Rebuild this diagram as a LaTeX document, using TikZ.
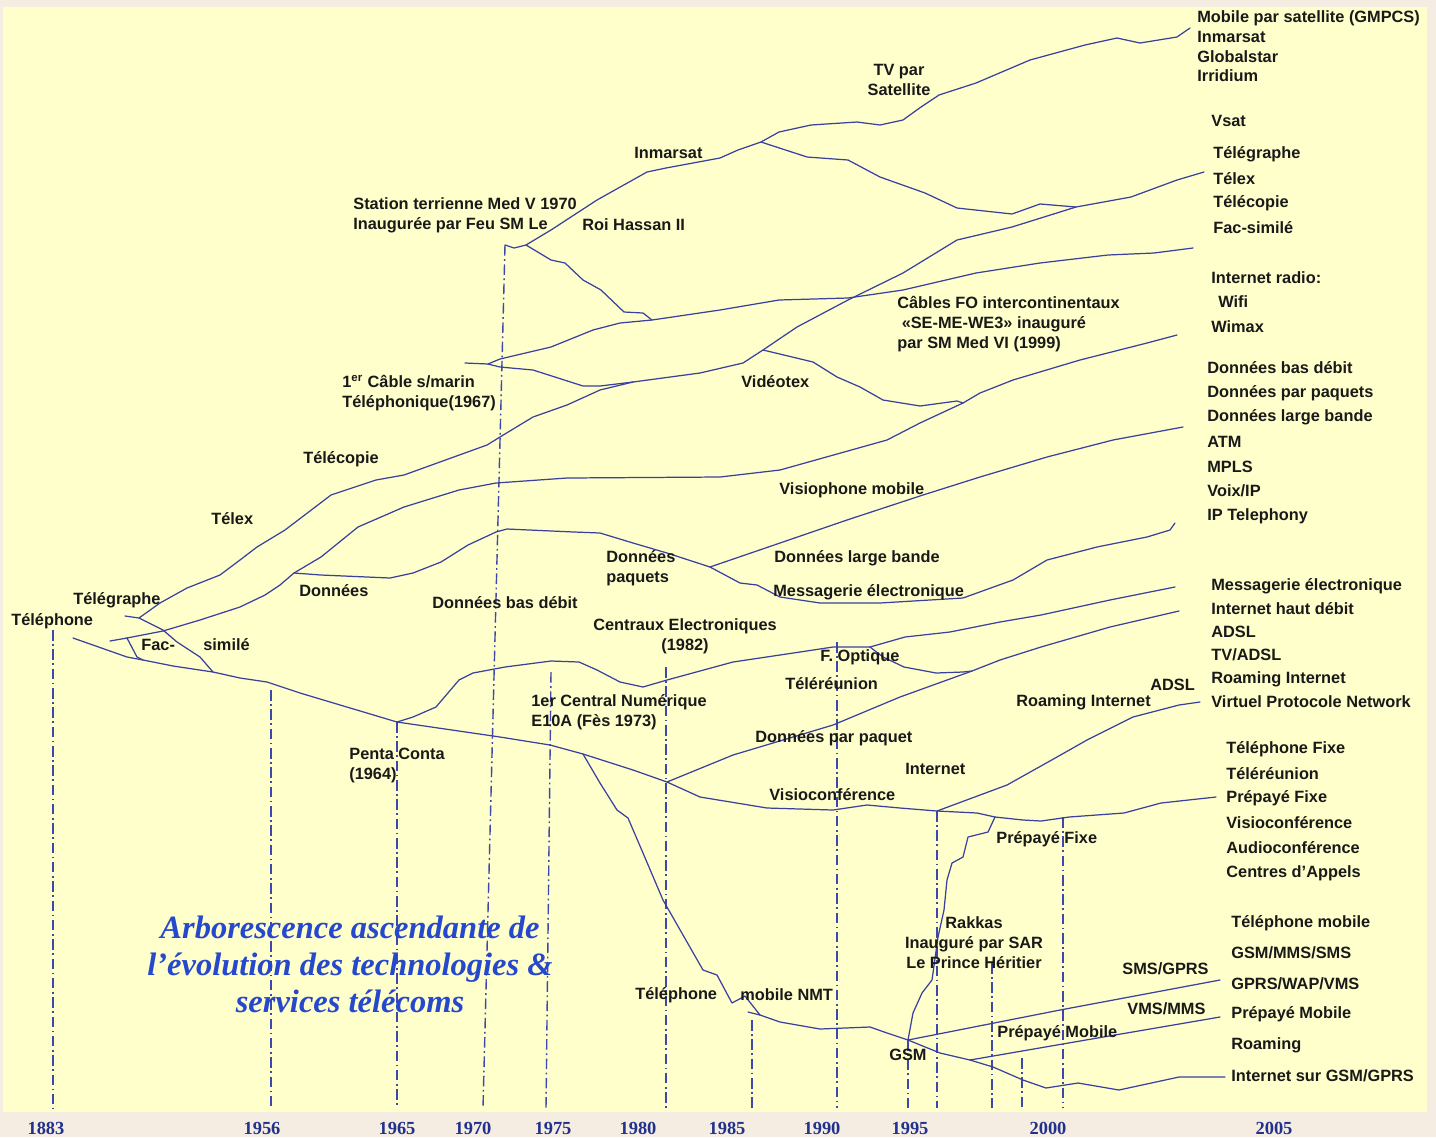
\documentclass[tikz,border=0pt]{standalone}
\usepackage{fontspec}
\setmainfont{Liberation Serif}
\setsansfont{Liberation Sans}
\usetikzlibrary{positioning}
\definecolor{paper}{RGB}{245,236,226}
\definecolor{sheet}{RGB}{255,255,204}
\definecolor{branchblue}{RGB}{58,64,158}
\definecolor{epochblue}{RGB}{62,72,172}
\definecolor{ink}{RGB}{25,25,25}
\definecolor{titleblue}{RGB}{38,72,205}
\definecolor{yearblue}{RGB}{32,50,140}

\begin{document}
\begin{tikzpicture}[x=0.02cm,y=-0.02cm,
    branch/.style={draw=branchblue,line width=0.7pt,line join=round,line cap=round},
    epoch/.style={draw=epochblue,line width=0.8pt,dash pattern=on 6pt off 2pt on 1pt off 2pt},
    lbl/.style={font=\sffamily\bfseries\fontsize{9.3}{11.4}\selectfont,text=ink,inner sep=0pt,anchor=west},
    yearlbl/.style={font=\bfseries\fontsize{10.5}{12}\selectfont,text=yearblue,inner sep=0pt}]
  \useasboundingbox (0,0) rectangle (1436,1137);
  \fill[paper] (0,0) rectangle (1436,1137);
  \fill[sheet] (3,7) rectangle (1427,1112);

  % epochs
  \foreach \xt/\yt/\xb in {53/630/53,271/690/271,397/722/397,505/245/483,551/672/546,
      666/667/666,752/1020/752,837/642/837,908/1040/908,937/811/937,992/963/992,
      1022/1058/1022,1063/817/1063}
    \draw[epoch] (\xt,\yt) -- (\xb,1108);
  \foreach \yr/\x in {1883/46,1956/262,1965/397,1970/473,1975/553,1980/638,1985/727,
      1990/822,1995/910,2000/1048,2005/1274}
    \node[yearlbl] (y\yr) at (\x,1128) {\yr};

  % junctions
  \coordinate (tel) at (73,638);
  \coordinate (fac) at (143,660);
  \coordinate (facT) at (127,638);
  \coordinate (tgr) at (139,618);
  \coordinate (tgx) at (213,672);
  \coordinate (don) at (294,573);
  \coordinate (pc) at (397,722);
  \coordinate (mob) at (583,754);
  \coordinate (ce) at (667,782);
  \coordinate (dpq) at (710,567);
  \coordinate (fo) at (870,647);
  \coordinate (foj) at (972,671);
  \coordinate (vdx) at (763,350);
  \coordinate (vdj) at (963,403);
  \coordinate (stm) at (505,245);
  \coordinate (sta) at (526,245);
  \coordinate (inm) at (761,142);
  \coordinate (inj) at (1076,207);
  \coordinate (cbl) at (488,364);
  \coordinate (cbj) at (633,382);
  \coordinate (stj) at (652,320);
  \coordinate (net) at (937,811);
  \coordinate (fix) at (995,817);
  \coordinate (gsm) at (908,1040);
  \coordinate (gsb) at (970,1060);
  \coordinate (nmt) at (745,996);

  % telephone trunk
  \draw[branch] (tel) -- (127,657) -- (fac) -- (173,666) -- (tgx) -- (240,678) -- (267,682)
    -- (300,693) -- (pc) -- (500,737) -- (550,745) -- (mob) -- (633,770) -- (ce) -- (700,797)
    -- (767,808) -- (833,810) -- (867,805) -- (900,808) -- (net) -- (977,813) -- (fix)
    -- (1023,820) -- (1041,821) -- (1069,817) -- (1124,813) -- (1161,803) -- (1216,797);
  \draw[branch] (110,641) -- (facT) -- (137,657) -- (fac);
  \draw[branch] (facT) -- (163,631) -- (200,620) -- (240,607) -- (265,595) -- (280,585) -- (don)
    -- (321,557) -- (358,527) -- (404,507) -- (459,490) -- (496,483) -- (567,478) -- (720,477)
    -- (780,470) -- (887,440) -- (920,423) -- (vdj) -- (980,393) -- (1013,380) -- (1080,360)
    -- (1147,343) -- (1177,335);
  \draw[branch] (125,616) -- (tgr) -- (160,603) -- (187,588) -- (220,575) -- (240,560) -- (257,547)
    -- (285,530) -- (331,495) -- (376,480) -- (404,475) -- (487,445) -- (500,437) -- (533,417)
    -- (567,405) -- (600,390) -- (cbj) -- (700,373) -- (743,363) -- (vdx) -- (797,327)
    -- (848,300) -- (903,273) -- (957,240) -- (1012,227) -- (inj) -- (1131,197) -- (1177,180)
    -- (1204,172);
  \draw[branch] (tgr) -- (163,630) -- (177,642) -- (200,657) -- (tgx);
  % data
  \draw[branch] (don) -- (321,575) -- (390,578) -- (413,573) -- (441,562) -- (468,545) -- (496,532)
    -- (507,529) -- (574,532) -- (600,533) -- (633,543) -- (667,553) -- (dpq);
  \draw[branch] (dpq) -- (780,543) -- (847,520) -- (923,495) -- (980,477) -- (1047,457)
    -- (1113,440) -- (1183,427);
  \draw[branch] (dpq) -- (740,583) -- (757,585) -- (780,597) -- (820,603) -- (880,603) -- (963,598)
    -- (1013,580) -- (1047,560) -- (1097,547) -- (1147,537) -- (1170,530) -- (1175,523);
  \draw[branch] (vdx) -- (813,362) -- (837,377) -- (860,387) -- (883,400) -- (920,406) -- (957,401)
    -- (vdj);
  % satellite and cables
  \draw[branch] (stm) -- (514,248) -- (sta) -- (551,230) -- (597,200) -- (647,172) -- (666,168)
    -- (720,158) -- (738,150) -- (inm) -- (779,132) -- (811,125) -- (857,122) -- (880,125)
    -- (903,120) -- (921,107) -- (939,95) -- (976,83) -- (1030,60) -- (1085,45) -- (1117,38)
    -- (1140,43) -- (1177,37) -- (1190,28);
  \draw[branch] (inm) -- (807,157) -- (848,160) -- (880,177) -- (925,193) -- (957,208) -- (1012,214)
    -- (1040,204) -- (inj);
  \draw[branch] (465,363) -- (cbl) -- (500,359) -- (551,347) -- (593,330) -- (620,323) -- (stj)
    -- (720,310) -- (779,300) -- (848,298) -- (903,290) -- (976,273) -- (1040,263) -- (1108,255)
    -- (1154,253) -- (1193,248);
  \draw[branch] (cbl) -- (500,367) -- (533,370) -- (583,386) -- (600,386) -- (cbj);
  \draw[branch] (sta) -- (551,260) -- (565,263) -- (583,280) -- (601,290) -- (624,312) -- (643,313)
    -- (stj);
  % switching and fibre
  \draw[branch] (pc) -- (413,717) -- (436,707) -- (459,680) -- (473,673) -- (505,667) -- (551,661)
    -- (579,662) -- (597,670) -- (620,682) -- (643,687) -- (667,680) -- (733,662) -- (800,652)
    -- (833,647) -- (fo);
  \draw[branch] (fo) -- (905,637) -- (950,632) -- (1000,622) -- (1041,615) -- (1110,600) -- (1175,587);
  \draw[branch] (fo) -- (883,657) -- (904,667) -- (936,673) -- (963,672) -- (foj);
  \draw[branch] (ce) -- (733,755) -- (833,725) -- (900,697) -- (foj) -- (1000,660) -- (1041,647)
    -- (1110,627) -- (1179,611);
  \draw[branch] (net) -- (1007,785) -- (1057,757) -- (1087,740) -- (1133,717) -- (1179,705) -- (1200,702);
  \draw[branch] (fix) -- (988,832) -- (968,837) -- (963,857) -- (952,863) -- (947,880) -- (944,910)
    -- (938,937) -- (932,980) -- (922,993) -- (913,1013) -- (gsm);
  % mobile
  \draw[branch] (mob) -- (600,783) -- (617,810) -- (628,818) -- (643,853) -- (663,900) -- (703,970)
    -- (717,975) -- (732,1003) -- (nmt) -- (760,1015) -- (780,1022) -- (820,1029) -- (870,1027)
    -- (887,1033) -- (gsm);
  \draw[branch] (748,1012) -- (760,1015);
  \draw[branch] (gsm) -- (1060,1010) -- (1220,980);
  \draw[branch] (gsm) -- (940,1053) -- (gsb);
  \draw[branch] (gsb) -- (1080,1041) -- (1220,1017);
  \draw[branch] (gsb) -- (993,1067) -- (1023,1080) -- (1046,1088) -- (1078,1083) -- (1119,1090)
    -- (1179,1077) -- (1225,1077);

  % labels along the branches
  \node[lbl] (telephone) at (11,621) {Téléphone};
  \node[lbl] (telegraphe) at (73,600) {Télégraphe};
  \node[lbl] (facA) at (141,645) {Fac-};
  \node[lbl] (facB) at (203,645) {similé};
  \node[lbl] (telex) at (211,519) {Télex};
  \node[lbl] (telecopie) at (303,459) {Télécopie};
  \node[lbl] (donnees) at (299,591) {Données};
  \node[lbl,align=left] (cable67) at (342,393) {1\textsuperscript{er} Câble s/marin\\Téléphonique(1967)};
  \node[lbl,align=left] (station) at (353,215) {Station terrienne Med V 1970\\Inaugurée par Feu SM Le};
  \node[lbl] (hassan) at (582,225) {Roi Hassan II};
  \node[lbl] (inmarsat) at (634,153) {Inmarsat};
  \node[lbl,align=center,anchor=center] (tvsat) at (899,80) {TV par\\Satellite};
  \node[lbl,align=left] (cablesfo) at (897,324) {Câbles FO intercontinentaux\\\hspace{2.5pt}«SE-ME-WE3» inauguré\\par SM Med VI (1999)};
  \node[lbl] (videotex) at (741,382) {Vidéotex};
  \node[lbl] (visiophone) at (779,490) {Visiophone mobile};
  \node[lbl] (basdebit) at (432,603) {Données bas débit};
  \node[lbl,align=left] (paquets) at (606,568) {Données\\paquets};
  \node[lbl] (largebande) at (774,558) {Données large bande};
  \node[lbl] (messagerie) at (773,592) {Messagerie électronique};
  \node[lbl,align=center,anchor=center] (centraux) at (685,636) {Centraux Electroniques\\(1982)};
  \node[lbl,align=left] (e10a) at (531,712) {1er Central Numérique\\E10A (Fès 1973)};
  \node[lbl] (optique) at (820,657) {F. Optique};
  \node[lbl] (telereunion) at (785,684) {Téléréunion};
  \node[lbl,align=left] (penta) at (349,765) {Penta Conta\\(1964)};
  \node[lbl] (parpaquet) at (755,738) {Données par paquet};
  \node[lbl] (visioconf) at (769,795) {Visioconférence};
  \node[lbl] (internet) at (905,769) {Internet};
  \node[lbl] (roaming) at (1016,702) {Roaming Internet};
  \node[lbl] (adsl) at (1150,685) {ADSL};
  \node[lbl] (prepfixe) at (996,839) {Prépayé Fixe};
  \node[lbl,align=center,anchor=center] (rakkas) at (974,943) {Rakkas\\Inauguré par SAR\\Le Prince Héritier};
  \node[lbl] (smsgprs) at (1122,969) {SMS/GPRS};
  \node[lbl] (vmsmms) at (1127,1009) {VMS/MMS};
  \node[lbl] (prepmob) at (997,1033) {Prépayé Mobile};
  \node[lbl] (gsmlbl) at (889,1055) {GSM};
  \node[lbl] (telmob) at (635,995) {Téléphone};
  \node[lbl] (nmtlbl) at (740,995) {mobile NMT};

  % services column
  \foreach \y/\t in {18/{Mobile par satellite (GMPCS)},37/Inmarsat,57/Globalstar,76/Irridium}
    \node[lbl] (sat\y) at (1197,\y) {\t};
  \node[lbl] (vsat) at (1211,121) {Vsat};
  \foreach \y/\t in {154/Télégraphe,179/Télex,203/Télécopie,228/Fac-similé}
    \node[lbl] (tg\y) at (1213,\y) {\t};
  \foreach \y/\t in {278/{Internet radio:},302/{\hspace{4pt}Wifi},327/Wimax}
    \node[lbl] (ir\y) at (1211,\y) {\t};
  \foreach \y/\t in {368/{Données bas débit},393/{Données par paquets},417/{Données large bande},
      442/ATM,467/MPLS,491/{Voix/IP},516/{IP Telephony}}
    \node[lbl] (dt\y) at (1207,\y) {\t};
  \foreach \y/\t in {586/{Messagerie électronique},609/{Internet haut débit},632/ADSL,655/{TV/ADSL},
      679/{Roaming Internet},702/{Virtuel Protocole Network}}
    \node[lbl] (hd\y) at (1211,\y) {\t};
  \foreach \y/\t in {749/{Téléphone Fixe},774/Téléréunion,798/{Prépayé Fixe},823/Visioconférence,
      848/Audioconférence,873/{Centres d'Appels}}
    \node[lbl] (fx\y) at (1226,\y) {\t};
  \foreach \y/\t in {923/{Téléphone mobile},953/{GSM/MMS/SMS},984/{GPRS/WAP/VMS},1014/{Prépayé Mobile},
      1045/Roaming,1076/{Internet sur GSM/GPRS}}
    \node[lbl] (mb\y) at (1231,\y) {\t};

  \node[font=\bfseries\itshape\fontsize{18.5}{21}\selectfont,text=titleblue,align=center]
    (title) at (350,964) {Arborescence ascendante de\\l’évolution des technologies \&\\services télécoms};
\end{tikzpicture}
\end{document}
